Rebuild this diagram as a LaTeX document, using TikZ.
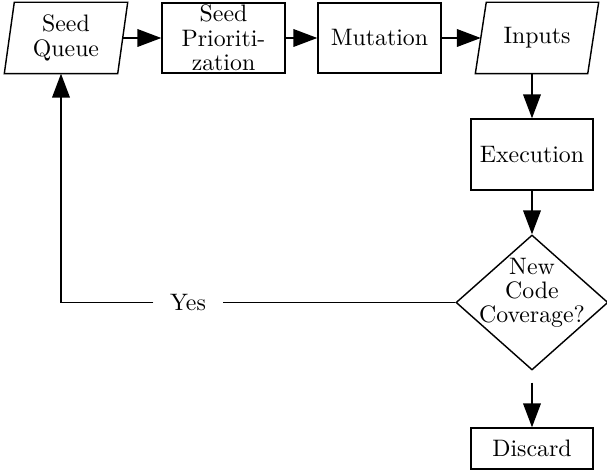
\documentclass[tikz,border=0pt]{standalone}
\usetikzlibrary{shapes.geometric,arrows.meta}
\begin{document}
\begin{tikzpicture}[x=0.42pt,y=-0.42pt,
  line width=0.6pt,
  lbl/.style={font=\linespread{0.85}\selectfont, align=center, inner sep=0pt},
  boxnode/.style={lbl, draw, rectangle, minimum height=70*0.42pt},
  ghost/.style={lbl, rectangle, minimum height=70*0.42pt},
  arr/.style={-{Triangle[length=10pt,width=7.4pt]}},
  decision/.style={diamond, draw, inner sep=0pt, minimum width=152*0.42pt, minimum height=135*0.42pt}
]
\useasboundingbox (0,0) rectangle (607,470);

% Seed Queue (parallelogram)
\node[ghost, minimum width=112*0.42pt] (sq) at (66,38) {Seed\\Queue};
\draw ([xshift=2.1pt]sq.north west) -- ([xshift=2.1pt]sq.north east)
  -- ([xshift=-2.1pt]sq.south east) -- ([xshift=-2.1pt]sq.south west) -- cycle;
\coordinate (sqb) at ([xshift=-2.1pt]sq.south);

\node[boxnode, minimum width=123*0.42pt] (sp) at (223.5,38) {Seed\\Prioriti-\\zation};
\node[boxnode, minimum width=123*0.42pt] (mu) at (379.5,38) {Mutation};

% Inputs (parallelogram)
\node[ghost, minimum width=111*0.42pt] (inp) at (537,38) {Inputs};
\draw ([xshift=2.3pt]inp.north west) -- ([xshift=2.3pt]inp.north east)
  -- ([xshift=-2.3pt]inp.south east) -- ([xshift=-2.3pt]inp.south west) -- cycle;

\node[boxnode, minimum width=122*0.42pt, minimum height=71*0.42pt] (ex) at (532,154.5) {Execution};
\node[decision] (dia) at (532,302.5) {};
\node[lbl] (diat) at (532,293) {New\\Code\\Coverage?};
\node[boxnode, minimum width=122*0.42pt, minimum height=41*0.42pt] (dis) at (532,448.5) {Discard};

\node[lbl, inner xsep=6.75pt] (yes) at (188,302.5) {Yes};

\draw[arr] (sq.east) -- (sp.west);
\draw[arr] (sp.east) -- (mu.west);
\draw[arr] (mu.east) -- (inp.west);
\draw[arr] (ex.north |- inp.south) -- (ex.north);
\draw[arr] (ex.south) -- (dia.north);
\draw[arr, shorten <=5pt] (dia.south) -- (dis.north);
\draw (dia.west) -- (yes.east);
\draw[arr] (yes.west) -| (sqb);
\end{tikzpicture}
\end{document}
